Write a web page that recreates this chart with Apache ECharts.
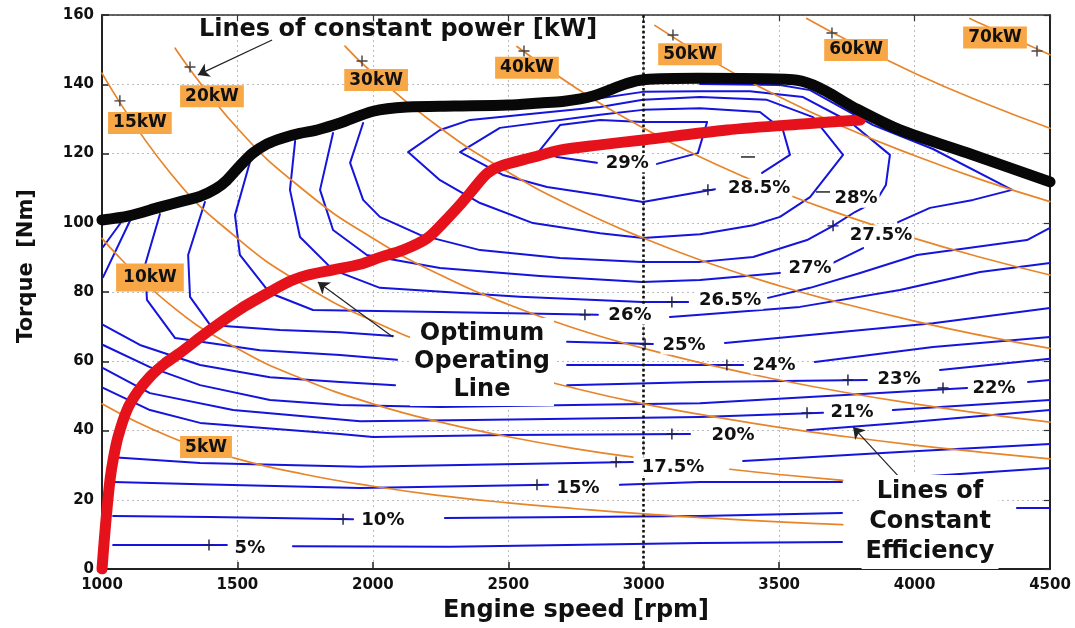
<!DOCTYPE html>
<html>
<head>
<meta charset="utf-8">
<title>Engine efficiency map</title>
<script src="https://cdn.jsdelivr.net/npm/echarts@6.0.0/dist/echarts.min.js"></script>
<style>
html,body{margin:0;padding:0;background:#ffffff;}
#chart{width:1075px;height:628px;}
</style>
</head>
<body>
<div id="chart"></div>
<script>
// ---------- axes ----------
const xAxisRange = [1000, 4500, 500];   // min, max, interval (rpm)
const yAxisRange = [0, 160, 20];        // min, max, interval (Nm)
const refSpeed = [3000];                // dotted reference line

// ---------- full-load (max torque) curve ----------
const wotCurve = [[1000,100.8],[1100,102],[1214,104.5],[1300,106.3],[1362,107.6],[1420,109.8],[1461,112.3],[1510,116.5],[1557,120.1],[1610,122.8],[1668,124.5],[1730,125.8],[1794,126.8],[1879,128.8],[2001,132.2],[2126,133.4],[2300,133.7],[2500,134],[2617,134.6],[2700,135],[2813,136.6],[2938,140.2],[3000,141.3],[3200,141.7],[3551,141.3],[3625,139.8],[3700,136.8],[3773,133.4],[3946,126.8],[4193,120.2],[4500,111.8]];

// ---------- optimum operating line ----------
const optimumLine = [[1000,0],[1008,8],[1018,17],[1030,26],[1041,31.5],[1059,38.1],[1092,45.9],[1130,51],[1177,55.5],[1230,59.2],[1288,62.4],[1388,68.4],[1509,75],[1631,80.5],[1700,83.3],[1760,84.9],[1853,86.4],[1953,88],[2026,90],[2111,92.1],[2200,95.5],[2259,99.9],[2320,105],[2359,108.6],[2421,114.2],[2469,116.3],[2591,118.9],[2691,121],[2839,122.5],[2997,123.9],[3307,126.8],[3600,128.6],[3800,129.7]];

// ---------- constant power lines (kW) ----------
const kw5  = [[[1000,47.7],[1250,38.2],[1500,31.8],[1750,27.3],[2000,23.9],[2250,21.2],[2500,19.1],[2750,17.4],[3000,15.9],[3250,14.7],[3500,13.6],[3735,12.8]]];
const kw10 = [[[1000,95.5],[1250,76.4],[1500,63.7],[1750,54.6],[2000,47.7],[2250,42.4],[2500,38.2],[2750,34.7],[2960,32.3]],[[3318,28.8],[3500,27.3],[3735,25.6]]];
const kw15 = [[[1000,143.2],[1250,114.6],[1500,95.5],[1750,81.8],[2000,71.6],[2250,63.7],[2500,57.3],[2750,52.1],[3000,47.7],[3250,44.1],[3500,40.9],[3750,38.2],[4000,35.8],[4250,33.7],[4500,31.8]]];
const kw20 = [[[1270,150.4],[1500,127.3],[1750,109.1],[2000,95.5],[2250,84.9],[2500,76.4],[2750,69.4],[3000,63.7],[3250,58.8],[3500,54.6],[3750,50.9],[4000,47.7],[4250,44.9],[4500,42.4]]];
const kw30 = [[[1897,151.0],[2000,143.2],[2250,127.3],[2500,114.6],[2750,104.2],[3000,95.5],[3250,88.1],[3500,81.8],[3750,76.4],[4000,71.6],[4250,67.4],[4500,63.7]]];
const kw40 = [[[2532,150.9],[2750,138.9],[3000,127.3],[3250,117.5],[3500,109.1],[3750,101.9],[4000,95.5],[4250,89.9],[4500,84.9]]];
const kw50 = [[[3041,157.0],[3250,146.9],[3500,136.4],[3750,127.3],[4000,119.4],[4250,112.3],[4500,106.1]]];
const kw60 = [[[3602,159.0],[3750,152.8],[4000,143.2],[4250,134.8],[4500,127.3]]];
const kw70 = [[[4204,159.0],[4250,157.3],[4500,148.5]]];
const kwLabels = [[1140,128.8,'15kW'],[1406,136.5,'20kW'],[2012,141.2,'30kW'],[2569,144.8,'40kW'],[3171,148.7,'50kW'],[3784,149.9,'60kW'],[4297,153.5,'70kW'],[1177,84.2,'10kW'],[1384,35.2,'5kW']];
const kwTicks = [[1066,135.2],[1325,145.0],[1960,146.7],[2558,149.6],[3108,154.2],[3695,154.8],[4452,149.6]];

// ---------- constant efficiency lines (%) ----------
const e5   = [[[1041,6.9],[1461,6.9]],[[1705,6.6],[2285,6.4],[3208,7.5],[3732,7.8]]];
const e10  = [[[1041,15.3],[1400,15.0],[1927,14.4]],[[2266,14.7],[3208,15.3],[3732,16.2]],[[4378,17.6],[4500,17.6]]];
const e15  = [[[1041,25.1],[1362,24.5],[1953,23.4],[2647,24.3]],[[2912,24.3],[3208,25.1],[3732,25.1]],[[3946,26.3],[4500,29.2]]];
const e175 = [[[1041,32.3],[1362,30.6],[1953,29.5],[2960,30.9]],[[3367,31.2],[3946,33.8],[4500,36.1]]];
const e20  = [[[1004,52.3],[1177,45.9],[1362,42.2],[1879,39.0],[2001,38.1],[2495,38.7],[3171,39.0]],[[3603,40.1],[3946,42.2],[4500,45.9]]];
const e21  = [[[1004,58.0],[1177,50.8],[1484,45.9],[1953,42.7],[2370,43.0],[3208,43.9],[3662,45.1]],[[3920,45.9],[4500,48.8]]];
const e22  = [[[1004,64.7],[1177,58.3],[1362,53.1],[1620,48.8],[1879,47.4],[2248,46.8],[2739,47.4],[3208,47.9],[4194,52.3]],[[4419,54.0],[4500,54.6]]];
const e23  = [[[1004,70.5],[1140,64.7],[1362,58.9],[1620,55.4],[1879,54.0],[2082,53.1]],[[2717,53.1],[3208,54.0],[3824,54.6]],[[4094,57.5],[4500,60.7]]];
const e24  = [[[1214,102.5],[1159,87.8],[1166,77.7],[1270,66.7],[1583,63.2],[1879,61.8],[2089,60.4]],[[2717,58.9],[3367,58.9]],[[3632,59.8],[4068,64.1],[4500,67.0]]];
const e25  = [[[1380,106.0],[1318,90.7],[1325,78.6],[1399,70.5],[1657,69.0],[1879,68.4],[2074,67.3]],[[2717,65.6],[3034,65.0]],[[3300,65.3],[3699,68.2],[4068,71.0],[4500,75.4]]];
const e26  = [[[1546,117.5],[1491,102.2],[1509,90.7],[1620,79.7],[1779,74.8],[2248,74.2],[2831,73.4]],[[3097,72.8],[3208,73.4],[3577,75.7],[3946,80.6],[4242,85.8],[4500,88.4]]];
const e265 = [[[1713,123.6],[1694,109.5],[1731,95.9],[1853,86.4],[2026,81.2],[2543,78.6],[2994,77.1],[3164,77.1]],[[3459,78.3],[3614,81.2],[3799,85.5],[4009,90.7],[4415,95.0],[4500,98.5]]];
const e27  = [[[1853,125.9],[1805,109.5],[1853,97.9],[1978,90.7],[2248,86.9],[2617,84.6],[2994,82.9],[3208,83.5],[3503,85.5]],[[3699,88.4],[3810,92.7]],[[3939,100.2],[4057,104.3],[4216,106.6],[4360,109.5],[4068,121.3],[3847,128.2],[3614,138.3],[3503,139.8],[3208,140.1]]];
const e275 = [[[1964,128.8],[1916,117.3],[1964,106.6],[2026,101.7],[2174,96.5],[2396,92.1],[2691,89.8],[2994,88.7],[3208,88.7],[3404,90.1],[3603,95.0],[3699,99.1],[3780,103.1],[3858,106.3],[3894,110.9],[3909,119.6],[3762,129.1],[3588,136.3],[3392,138.0],[3208,138.0],[2997,137.8],[2813,135.7],[2654,134.2],[2543,133.4]]];
const e28  = [[[2130,120.4],[2248,112.3],[2396,105.7],[2591,99.9],[2839,97.0],[2997,95.6],[3208,96.7],[3404,99.3],[3503,101.7],[3614,107.4],[3736,119.6],[3625,130.5],[3455,135.5],[3208,136.3],[2997,135.5],[2839,133.4],[2617,131.7],[2359,129.7],[2248,126.8],[2130,120.4]]];
const e285 = [[[3437,114.4],[3540,119.6],[3514,126.8],[3429,132.0],[3208,133.1],[2997,132.6],[2839,131.2],[2469,127.4],[2322,120.4],[2480,113.8],[2643,110.3],[2839,108.0],[2997,106.0],[3263,109.7]]];
const e29  = [[[3049,117.0],[3200,120.1],[3234,129.1],[2997,129.1],[2839,129.7],[2691,128.2],[2617,121.0],[2680,119.0],[2827,117.3]]];
const eEdge = [[[1004,93.0],[1074,100.5]],[[1004,84.3],[1103,100.5]]];
const effLabels = [[2939,117.3,'29%'],[3426,110.0,'28.5%'],[3784,107.1,'28%'],[3876,96.5,'27.5%'],[3614,86.9,'27%'],[3319,77.7,'26.5%'],[2949,73.4,'26%'],[3149,64.7,'25%'],[3481,58.9,'24%'],[3943,54.9,'23%'],[4293,52.3,'22%'],[3769,45.3,'21%'],[3330,38.7,'20%'],[3108,29.5,'17.5%'],[2757,23.4,'15%'],[2037,14.2,'10%'],[1546,6.1,'5%']];
const effTicks = [[1395,6.9],[1890,14.4],[2606,24.3],[2898,30.9],[3104,39.0],[3603,45.1],[4105,52.3],[3754,54.6],[3307,58.9],[3005,65.0],[2783,73.4],[3104,77.1],[3699,99.1],[3237,109.5]];
const effDashes = [[3385,119.0],[3662,108.9]];

// ---------- annotations ----------
const notes = [[2093,155.7,'Lines of constant power [kW]'],[2403,59.8,'Optimum\nOperating\nLine'],[4057,13.6,'Lines of\nConstant\nEfficiency']];
const arrows = [[[1628,152.8],[1354,142.7]],[[2074,67.0],[1797,82.9]],[[3946,26.3],[3773,41.0]]];

// ---------- build ----------
const FONT = 'DejaVu Sans';
const BLUE = '#1414dc';
const ORANGE = '#e8852a';
const PLUS = 'path://M0,4.35H10V5.65H0Z M4.35,0H5.65V10H4.35Z';
const series = [];
function addLines(segs, color, width, z, smooth) {
  segs.forEach(function (s) {
    series.push({type:'line', data:s, symbol:'none', showSymbol:false, smooth:smooth || false,
      lineStyle:{color:color, width:width, cap:'round', join:'round', opacity:1}, z:z, silent:true, animation:false});
  });
}
[kw5,kw10,kw15,kw20,kw30,kw40,kw50,kw60,kw70].forEach(function (k) { addLines(k, ORANGE, 1.7, 3, true); });
[e5,e10,e15,e175,e20,e21,e22,e23,e24,e25,e26,e265,e27,e275,e28,e285,e29,eEdge].forEach(function (e) { addLines(e, BLUE, 2, 2, false); });
addLines([optimumLine], '#e5121c', 11, 5, 0.3);
addLines([wotCurve], '#080808', 11, 6, 0.3);

// reference dotted line at 3000 rpm + arrows
series.push({type:'line', data:[], z:4, silent:true, animation:false,
  markLine:{silent:true, animation:false, symbol:'none', label:{show:false},
    lineStyle:{color:'#111', width:2.6, type:'dotted', opacity:1},
    data: refSpeed.map(function (v) { return {xAxis:v}; })}});
series.push({type:'line', data:[], z:9, silent:true, animation:false,
  markLine:{silent:true, animation:false, symbol:['none','arrow'], symbolSize:11, label:{show:false},
    lineStyle:{color:'#222', width:1.2, type:'solid', opacity:1},
    data: arrows.map(function (a) { return [{coord:a[0]},{coord:a[1]}]; })}});

// tick markers
series.push({type:'scatter', data:effTicks, symbol:PLUS, symbolSize:11, itemStyle:{color:'#1d1d58', opacity:1}, z:7, silent:true, animation:false});
series.push({type:'scatter', data:kwTicks, symbol:PLUS, symbolSize:11, itemStyle:{color:'#444', opacity:1}, z:7, silent:true, animation:false});
series.push({type:'scatter', data:effDashes, symbol:'rect', symbolSize:[14,1.6], itemStyle:{color:'#333', opacity:1}, z:7, silent:true, animation:false});

// labels
const hidden = {color:'rgba(0,0,0,0)', opacity:1};
series.push({type:'scatter', symbolSize:1, itemStyle:hidden, z:10, silent:true, animation:false,
  data: kwLabels.map(function (d) {
    const o = {value:[d[0],d[1]], name:d[2]};
    if (d[2] === '10kW') o.label = {padding:[6,7,5,7]};
    return o;
  }),
  label:{show:true, position:'inside', formatter:'{b}', color:'#111', opacity:1, fontFamily:FONT, fontWeight:'bold', fontSize:17,
    backgroundColor:'#f7a745', padding:[3,5,2,5]}});
series.push({type:'scatter', symbolSize:1, itemStyle:hidden, z:10, silent:true, animation:false,
  data: effLabels.map(function (d) { return {value:[d[0],d[1]], name:d[2]}; }),
  label:{show:true, position:'inside', formatter:'{b}', color:'#111', opacity:1, fontFamily:FONT, fontWeight:'bold', fontSize:18,
    backgroundColor:'#ffffff', padding:[1,2,0,2]}});
series.push({type:'scatter', symbolSize:1, itemStyle:hidden, z:11, silent:true, animation:false,
  data: notes.map(function (d, i) {
    const o = {value:[d[0],d[1]], name:d[2]};
    if (i === 0) o.label = {backgroundColor:'transparent', padding:0};
    if (i === 2) o.label = {lineHeight:30};
    return o;
  }),
  label:{show:true, position:'inside', formatter:'{b}', color:'#111', opacity:1, fontFamily:FONT, fontWeight:'bold', fontSize:24,
    lineHeight:28, align:'center', backgroundColor:'#ffffff', padding:[2,4]}});

const axisText = {color:'#111', fontFamily:FONT, fontWeight:'bold', fontSize:15, formatter:function (v) { return String(v); }};
const option = {
  animation:false,
  backgroundColor:'#ffffff',
  grid:{left:102, right:25, top:15, bottom:59, containLabel:false, outerBoundsMode:'none'},
  xAxis:[
    {type:'value', min:xAxisRange[0], max:xAxisRange[1], interval:xAxisRange[2], position:'bottom',
      axisLine:{show:true, onZero:false, lineStyle:{color:'#222', width:2}},
      axisTick:{show:true, inside:true, length:7, lineStyle:{color:'#222', width:1.5}},
      axisLabel:Object.assign({margin:9}, axisText),
      splitLine:{show:true, lineStyle:{color:'#bdbdbd', width:1, type:[2,3]}},
      name:'Engine speed [rpm]', nameLocation:'middle', nameGap:30,
      nameTextStyle:{color:'#111', fontFamily:FONT, fontWeight:'bold', fontSize:24}},
    {type:'value', min:xAxisRange[0], max:xAxisRange[1], interval:xAxisRange[2], position:'top',
      axisLine:{show:true, onZero:false, lineStyle:{color:'#333', width:1.6}},
      axisTick:{show:true, inside:true, length:6, lineStyle:{color:'#333', width:1.2}},
      axisLabel:{show:false}, splitLine:{show:false}}
  ],
  yAxis:[
    {type:'value', min:yAxisRange[0], max:yAxisRange[1], interval:yAxisRange[2], position:'left',
      axisLine:{show:true, onZero:false, lineStyle:{color:'#222', width:2}},
      axisTick:{show:true, inside:true, length:7, lineStyle:{color:'#222', width:1.5}},
      axisLabel:Object.assign({margin:8}, axisText),
      splitLine:{show:true, lineStyle:{color:'#bdbdbd', width:1, type:[2,3]}}},
    {type:'value', min:yAxisRange[0], max:yAxisRange[1], interval:yAxisRange[2], position:'right',
      axisLine:{show:true, onZero:false, lineStyle:{color:'#222', width:2}},
      axisTick:{show:true, inside:true, length:6, lineStyle:{color:'#333', width:1.2}},
      axisLabel:{show:false}, splitLine:{show:false}}
  ],
  graphic:[{type:'text', x:27, y:266, rotation:Math.PI/2,
    style:{text:'Torque  [Nm]', fill:'#111', font:'bold 21px "DejaVu Sans"', textAlign:'center', textVerticalAlign:'middle'}}],
  series:series
};
const chart = echarts.init(document.getElementById('chart'), null, {renderer:'canvas'});
chart.setOption(option);
</script>
</body>
</html>
